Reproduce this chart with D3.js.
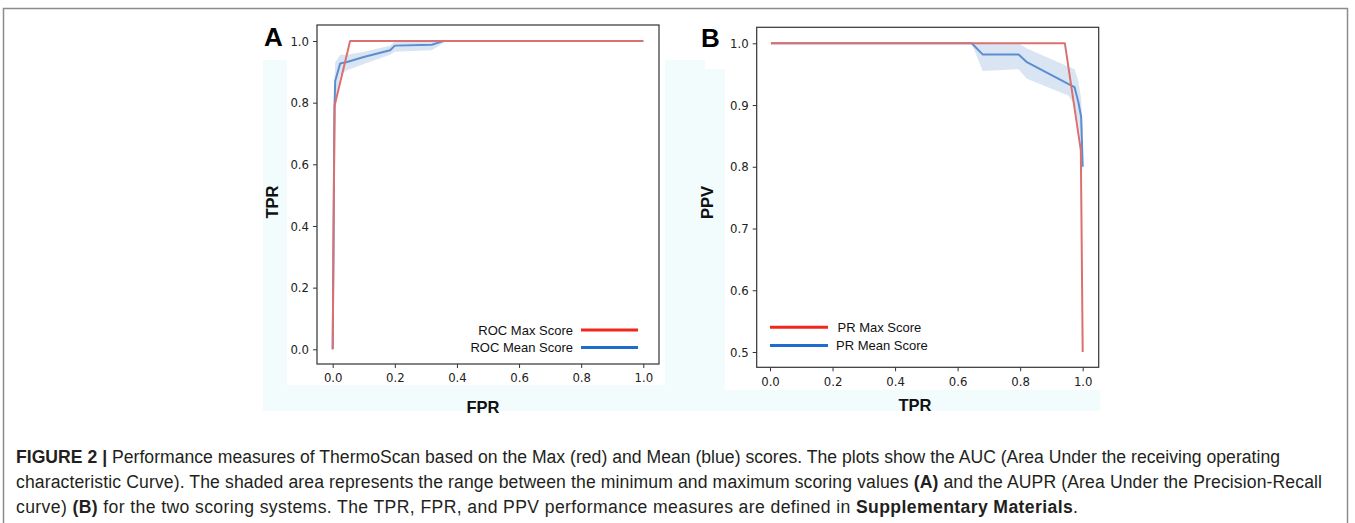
<!DOCTYPE html>
<html>
<head>
<meta charset="utf-8">
<script src="https://cdn.jsdelivr.net/npm/d3@7"></script>
<style>
  body { margin: 0; background: #fff; }
  svg { display: block; }
</style>
</head>
<body>
<div id="figure"></div>
<script>
// Figure 2: ROC (A) and PR (B) curves, max vs mean score

// ---- data ----
var tickValsA = [0, 0.2, 0.4, 0.6, 0.8, 1.0];
var tickValsB_y = [0.5, 0.6, 0.7, 0.8, 0.9, 1.0];

// ROC, max score
var rocMaxFpr = [0, 0.006, 0.056, 1.0];
var rocMaxTpr = [0, 0.79, 1.0, 1.0];

// ROC, mean score with min/max band
var rocMeanFpr   = [0, 0.005, 0.006, 0.008, 0.024, 0.046, 0.1, 0.185, 0.2, 0.319, 0.351, 0.36, 1.0];
var rocMeanTpr   = [0, 0.70, 0.79, 0.87, 0.927, 0.932, 0.948, 0.97, 0.985, 0.988, 0.998, 1.0, 1.0];
var rocMeanLow   = [0, 0.62, 0.70, 0.78, 0.89, 0.905, 0.925, 0.955, 0.965, 0.97, 0.99, 1.0, 1.0];
var rocMeanHigh  = [0, 0.80, 0.88, 0.93, 0.955, 0.955, 0.965, 0.985, 1.0, 1.0, 1.0, 1.0, 1.0];

// PR, max score
var prMaxTpr = [0.003, 0.943, 0.994, 1.0];
var prMaxPpv = [1.0, 1.0, 0.827, 0.5];

// PR, mean score with min/max band
var prMeanTpr  = [0.003, 0.645, 0.68, 0.795, 0.82, 0.955, 0.974, 0.986, 0.995, 1.0];
var prMeanPpv  = [1.0, 1.0, 0.982, 0.982, 0.970, 0.934, 0.929, 0.905, 0.881, 0.80];
var prMeanLow  = [1.0, 1.0, 0.955, 0.958, 0.943, 0.915, 0.90, 0.87, 0.84, 0.78];
var prMeanHigh = [1.0, 1.0, 1.0, 1.0, 0.992, 0.962, 0.958, 0.94, 0.91, 0.86];

var legendA = ["ROC Max Score", "ROC Mean Score"];
var legendB = ["PR Max Score", "PR Mean Score"];

var W = 1355, H = 523;
var red = "#da7170", blue = "#5b8dd1", band = "#d3e0f1";
var legRed = "#f2261b", legBlue = "#1f6ccf";
var tickFont = "'DejaVu Sans Condensed', 'DejaVu Sans', sans-serif";
var sansFont = "'Liberation Sans', Arial, Helvetica, sans-serif";

var svg = d3.select("#figure").append("svg")
    .attr("width", W).attr("height", H);

// outer frame of the figure
svg.append("rect")
    .attr("x", 3.5).attr("y", 8.5)
    .attr("width", 1344).attr("height", 530)
    .attr("fill", "none").attr("stroke", "#8c8c8c").attr("stroke-width", 1.5);

// faint tinted backgrounds behind each pasted panel
svg.append("rect").attr("x", 263).attr("y", 60).attr("width", 442).attr("height", 351).attr("fill", "#f3fcfd");
svg.append("rect").attr("x", 287).attr("y", 15).attr("width", 378).attr("height", 370).attr("fill", "#fff");
svg.append("rect").attr("x", 690).attr("y", 69).attr("width", 410).attr("height", 342).attr("fill", "#f3fcfd");
svg.append("rect").attr("x", 725).attr("y", 15).attr("width", 375).attr("height", 375).attr("fill", "#fff");

function buildPanel(cfg) {
    var g = svg.append("g");
    var x = d3.scaleLinear().domain([0, 1]).range(cfg.xr);
    var y = d3.scaleLinear().domain(cfg.yd).range(cfg.yr);

    // min/max band
    var pts = cfg.bx.map(function (v, i) { return { x: v, lo: cfg.blo[i], hi: cfg.bhi[i] }; });
    g.append("path")
        .datum(pts)
        .attr("fill", band).attr("opacity", 0.85)
        .attr("d", d3.area().x(d => x(d.x)).y0(d => y(d.lo)).y1(d => y(d.hi)));

    var line = d3.line().x(d => x(d[0])).y(d => y(d[1]));

    // mean curve
    g.append("path")
        .datum(d3.zip(cfg.bx, cfg.bmean))
        .attr("fill", "none").attr("stroke", blue).attr("stroke-width", 2)
        .attr("stroke-linejoin", "round")
        .attr("d", line);

    // max curve
    g.append("path")
        .datum(d3.zip(cfg.mx, cfg.my))
        .attr("fill", "none").attr("stroke", red).attr("stroke-width", 2)
        .attr("stroke-linejoin", "round")
        .attr("d", line);

    // axes frame
    g.append("rect")
        .attr("x", cfg.box[0]).attr("y", cfg.box[1])
        .attr("width", cfg.box[2] - cfg.box[0]).attr("height", cfg.box[3] - cfg.box[1])
        .attr("fill", "none").attr("stroke", "#333").attr("stroke-width", 1.2);

    var ax = g.append("g")
        .attr("transform", "translate(0," + cfg.box[3] + ")")
        .call(d3.axisBottom(x).tickValues(tickValsA).tickFormat(d3.format(".1f")).tickSizeOuter(0).tickSize(4).tickPadding(5));
    var ay = g.append("g")
        .attr("transform", "translate(" + cfg.box[0] + ",0)")
        .call(d3.axisLeft(y).tickValues(cfg.yticks).tickFormat(d3.format(".1f")).tickSizeOuter(0).tickSize(4).tickPadding(4));
    [ax, ay].forEach(function (a) {
        a.select(".domain").remove();
        a.selectAll("line").attr("stroke", "#333");
        a.selectAll("text").attr("font-family", tickFont).attr("font-size", "13px").attr("fill", "#222");
    });

    // axis titles
    g.append("text")
        .attr("x", cfg.xlab[0]).attr("y", cfg.xlab[1])
        .attr("text-anchor", "middle")
        .attr("font-family", sansFont).attr("font-weight", 700).attr("font-size", "16.5px")
        .attr("fill", "#111")
        .text(cfg.xtitle);
    g.append("text")
        .attr("transform", "translate(" + cfg.ylab[0] + "," + cfg.ylab[1] + ") rotate(-90)")
        .attr("text-anchor", "middle")
        .attr("font-family", sansFont).attr("font-weight", 700).attr("font-size", "16.5px")
        .attr("fill", "#111")
        .text(cfg.ytitle);

    // panel letter
    g.append("text")
        .attr("x", cfg.letter[0]).attr("y", cfg.letter[1])
        .attr("font-family", sansFont).attr("font-weight", 700).attr("font-size", "26px")
        .attr("fill", "#000")
        .text(cfg.name);

    // legend
    var leg = g.append("g");
    cfg.legend.forEach(function (label, i) {
        var ly = cfg.legY[i];
        leg.append("line")
            .attr("x1", cfg.legLine[0]).attr("x2", cfg.legLine[1])
            .attr("y1", ly).attr("y2", ly)
            .attr("stroke", i === 0 ? legRed : legBlue).attr("stroke-width", 3);
        leg.append("text")
            .attr("x", cfg.legTextX[i]).attr("y", ly + 4.5)
            .attr("text-anchor", cfg.legAnchor)
            .attr("font-family", sansFont).attr("font-size", "13px")
            .attr("fill", "#111")
            .text(label);
    });
}

buildPanel({
    name: "A",
    xr: [332.7, 643.3], yd: [0, 1], yr: [349.3, 41],
    box: [317, 25, 659, 364],
    yticks: tickValsA,
    mx: rocMaxFpr, my: rocMaxTpr,
    bx: rocMeanFpr, bmean: rocMeanTpr, blo: rocMeanLow, bhi: rocMeanHigh,
    xtitle: "FPR", ytitle: "TPR",
    xlab: [483, 412.5], ylab: [278, 202],
    letter: [264, 46],
    legend: legendA, legY: [330, 347.5], legLine: [581, 638],
    legTextX: [573, 573], legAnchor: "end"
});

buildPanel({
    name: "B",
    xr: [770, 1082.7], yd: [0.5, 1], yr: [352, 43.3],
    box: [756.7, 27.3, 1098.7, 367.3],
    yticks: tickValsB_y,
    mx: prMaxTpr, my: prMaxPpv,
    bx: prMeanTpr, bmean: prMeanPpv, blo: prMeanLow, bhi: prMeanHigh,
    xtitle: "TPR", ytitle: "PPV",
    xlab: [915, 411], ylab: [712.5, 202.5],
    letter: [701, 46.5],
    legend: legendB, legY: [327.3, 345.5], legLine: [770, 828],
    legTextX: [837.5, 836], legAnchor: "start"
});

// caption, each line stretched to the width it has in the original
var capLines = [
    [["FIGURE 2 | ", 700], ["Performance measures of ThermoScan based on the Max (red) and Mean (blue) scores. The plots show the AUC (Area Under the receiving operating", 400]],
    [["characteristic Curve). The shaded area represents the range between the minimum and maximum scoring values ", 400], ["(A)", 700], [" and the AUPR (Area Under the Precision-Recall", 400]],
    [["curve) ", 400], ["(B)", 700], [" for the two scoring systems. The TPR, FPR, and PPV performance measures are defined in ", 400], ["Supplementary Materials", 700], [".", 400]]
];
var capWidths = [1264, 1306, 1062];
var cap = svg.append("g")
    .attr("font-family", sansFont).attr("font-size", "17.6px").attr("fill", "#231f20");
capLines.forEach(function (parts, i) {
    var t = cap.append("text")
        .attr("x", 16).attr("y", 463 + i * 25)
        .attr("xml:space", "preserve")
        .attr("textLength", capWidths[i])
        .attr("lengthAdjust", "spacing");
    parts.forEach(function (p) {
        t.append("tspan").attr("font-weight", p[1]).text(p[0]);
    });
});
</script>
</body>
</html>
